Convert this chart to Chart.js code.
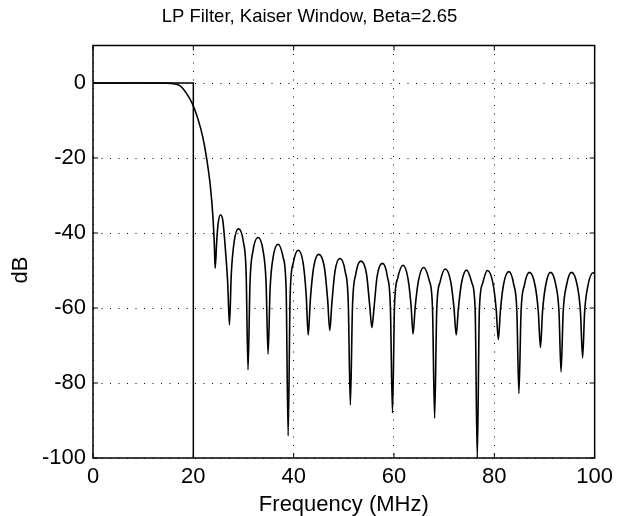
<!DOCTYPE html>
<html>
<head>
<meta charset="utf-8">
<script src="https://cdn.jsdelivr.net/npm/chart.js@4.4.1/dist/chart.umd.min.js"></script>
<style>
  html, body { margin: 0; padding: 0; background: #fff; }
  #graphe { display: block; }
</style>
</head>
<body>
<canvas id="graphe" width="619" height="516"></canvas>
<script>
// Réponse du filtre : fréquence en MHz, gain en dB
const freqMHz = [
  0, 13, 15.3, 17.3, 18.6, 19.8, 20.9, 21.9, 22.7, 23.4, 23.9, 24.2,
  24.35, 24.67, 24.94, 25.4, 25.86, 26.4, 26.85,
  27.2, 27.57, 28.13, 29.0, 29.98, 30.53,
  30.9, 31.3, 31.9, 32.9, 33.9, 34.5,
  34.9, 35.3, 35.9, 36.9, 37.9, 38.5,
  38.9, 39.3, 39.9, 40.9, 41.9, 42.5,
  42.9, 43.33, 43.98, 45.0, 46.13, 46.77,
  47.2, 47.61, 48.23, 49.2, 50.28, 50.89,
  51.3, 51.73, 52.38, 53.4, 54.53, 55.17,
  55.6, 56.01, 56.63, 57.7, 58.68, 59.29,
  59.7, 60.11, 60.73, 61.8, 62.78, 63.39,
  63.8, 64.23, 64.88, 65.9, 67.03, 67.67,
  68.1, 68.53, 69.18, 70.2, 71.33, 71.97,
  72.4, 72.82, 73.45, 74.5, 75.55, 76.18,
  76.6, 77.02, 77.65, 78.6, 79.75, 80.38,
  80.8, 81.21, 81.83, 82.9, 83.88, 84.49,
  84.9, 85.33, 85.98, 87.0, 88.13, 88.77,
  89.2, 89.61, 90.23, 91.2, 92.28, 92.89,
  93.3, 93.73, 94.38, 95.4, 96.53, 97.17,
  97.6, 98.0, 98.65, 99.7, 100
];
const gainDb = [
  0, 0, -0.1, -0.7, -2.7, -5.5, -9.5, -14.5, -20.5, -27.6, -35.6, -43.6,
  -49.4, -42, -37.5, -35.2, -36.5, -44.5, -53.3,
  -64.5, -50.9, -42.4, -38.9, -42.4, -50.9,
  -76.5, -53.2, -44.7, -41.2, -44.7, -53.2,
  -72.3, -55.0, -46.5, -43.0, -46.5, -55.0,
  -94.1, -56.6, -48.1, -44.6, -48.1, -56.6,
  -67.2, -57.7, -49.2, -45.7, -49.2, -57.7,
  -66.0, -58.8, -50.3, -46.8, -50.3, -58.8,
  -85.9, -59.5, -51.0, -47.5, -51.0, -59.5,
  -65.2, -60.1, -51.6, -48.1, -51.6, -60.1,
  -88.0, -59.1, -52.1, -48.6, -52.1, -59.1,
  -66.9, -59.7, -52.7, -49.2, -52.7, -59.7,
  -89.4, -60.1, -53.1, -49.6, -53.1, -60.1,
  -67.2, -60.4, -53.4, -49.9, -53.4, -60.4,
  -100, -60.5, -53.5, -50.0, -53.5, -60.5,
  -68.4, -60.8, -53.8, -50.3, -53.8, -60.8,
  -82.8, -61.0, -54.0, -50.5, -54.0, -61.0,
  -70.5, -61.0, -54.0, -50.5, -54.0, -61.0,
  -77.0, -61.0, -54.0, -50.5, -54.0, -61.0,
  -73.3, -61.1, -54.1, -50.6, -50.7
];

// Gabarit idéal du passe-bas
const idealFreq = [0, 20, 20];
const idealDb = [0, 0, -100];

// Graduations
const xTicks = [0, 20, 40, 60, 80, 100];
const yTicks = [-100, -80, -60, -40, -20, 0];

const police = "'Liberation Sans', Arial, Helvetica, sans-serif";

// Cadre façon Matlab : boîte complète et graduations vers l'intérieur
const cadreMatlab = {
  id: 'cadreMatlab',
  afterDraw(chart) {
    const { ctx, chartArea: a, scales } = chart;
    const x = scales.x, y = scales.y;
    ctx.save();
    ctx.strokeStyle = '#000';
    ctx.lineWidth = 1;
    ctx.beginPath();
    x.ticks.forEach(t => {
      const px = x.getPixelForValue(t.value);
      ctx.moveTo(px, a.bottom); ctx.lineTo(px, a.bottom - 5);
      ctx.moveTo(px, a.top); ctx.lineTo(px, a.top + 5);
    });
    y.ticks.forEach(t => {
      const py = y.getPixelForValue(t.value);
      ctx.moveTo(a.left, py); ctx.lineTo(a.left + 5, py);
      ctx.moveTo(a.right, py); ctx.lineTo(a.right - 5, py);
    });
    ctx.stroke();
    ctx.lineWidth = 1.5;
    ctx.strokeRect(a.left, a.top, a.right - a.left, a.bottom - a.top);
    ctx.restore();
  }
};

const ctx = document.getElementById('graphe').getContext('2d');
new Chart(ctx, {
  type: 'line',
  data: {
    datasets: [
      {
        label: 'Réponse',
        data: freqMHz.map((f, i) => ({ x: f, y: gainDb[i] })),
        borderColor: '#000',
        borderWidth: 1.6,
        pointRadius: 0,
        cubicInterpolationMode: 'monotone',
        fill: false
      },
      {
        label: 'Idéal',
        data: idealFreq.map((f, i) => ({ x: f, y: idealDb[i] })),
        borderColor: '#000',
        borderWidth: 1.5,
        pointRadius: 0,
        tension: 0,
        fill: false
      }
    ]
  },
  options: {
    responsive: false,
    animation: false,
    devicePixelRatio: 1,
    layout: { padding: 0 },
    plugins: {
      legend: { display: false },
      tooltip: { enabled: false },
      title: {
        display: true,
        text: 'LP Filter, Kaiser Window, Beta=2.65',
        color: '#000',
        font: { family: police, size: 18.5, weight: 'normal', lineHeight: 1.2 },
        padding: { top: 6, bottom: 17.3 }
      }
    },
    scales: {
      x: {
        type: 'linear',
        min: 0,
        max: 100,
        afterBuildTicks: s => { s.ticks = xTicks.map(v => ({ value: v })); },
        afterFit: s => { s.height = 58; },
        grid: { color: '#000', lineWidth: 1, drawTicks: false },
        border: { display: false, dash: [1, 7.5] },
        ticks: {
          color: '#000',
          padding: 6,
          maxRotation: 0,
          font: { family: police, size: 22 }
        },
        title: {
          display: true,
          text: 'Frequency (MHz)',
          color: '#000',
          font: { family: police, size: 22, lineHeight: 1.2 },
          padding: { top: 0, bottom: -2 }
        }
      },
      y: {
        type: 'linear',
        min: -100,
        max: 10,
        afterBuildTicks: s => { s.ticks = yTicks.map(v => ({ value: v })); },
        afterFit: s => { s.width = 93; },
        grid: { color: '#000', lineWidth: 1, drawTicks: false },
        border: { display: false, dash: [1, 7.5] },
        ticks: {
          color: '#000',
          padding: 7,
          font: { family: police, size: 22 }
        },
        title: {
          display: true,
          text: 'dB      ',
          color: '#000',
          font: { family: police, size: 22, lineHeight: 1.2 },
          padding: { top: 8, bottom: 0 }
        }
      },
      droite: {
        type: 'linear',
        position: 'right',
        afterFit: s => { s.width = 22; },
        grid: { display: false },
        border: { display: false },
        ticks: { display: false }
      }
    }
  },
  plugins: [cadreMatlab]
});
</script>
</body>
</html>
